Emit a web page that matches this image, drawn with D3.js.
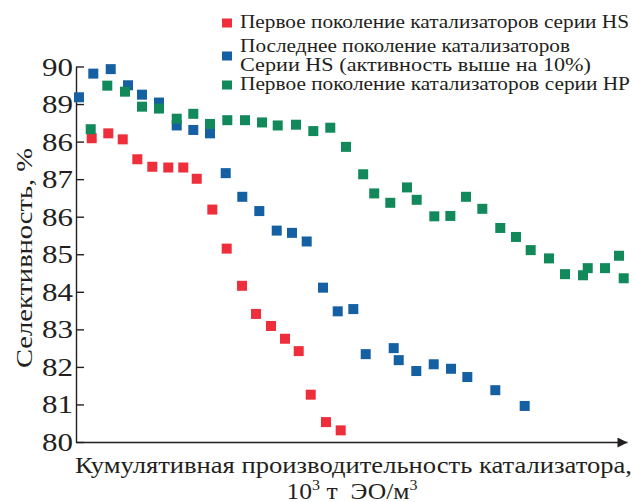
<!DOCTYPE html>
<html>
<head>
<meta charset="utf-8">
<script src="https://cdn.jsdelivr.net/npm/d3@7"></script>
<style>
  html, body { margin: 0; padding: 0; background: #fff; }
  svg { display: block; }
  text { font-family: "Liberation Serif", "Times New Roman", serif; fill: #231f20; }
</style>
</head>
<body>
<svg id="chart" width="633" height="502"></svg>
<script>
// Cumulative catalyst productivity (relative units, 0–100 along the axis)
const redX = [2.85, 5.86, 8.48, 11.13, 13.85, 16.75, 19.47, 21.91, 24.74, 27.35, 30.13, 32.67, 35.39, 37.93, 40.42, 42.60, 45.37, 48.04];
const redY = [88.09, 88.22, 88.06, 87.53, 87.33, 87.31, 87.31, 87.01, 86.19, 85.15, 84.16, 83.41, 83.09, 82.75, 82.42, 81.26, 80.53, 80.31];

const blueX = [0.54, 3.14, 6.30, 9.44, 11.98, 15.06, 18.28, 21.29, 24.32, 27.17, 30.18, 33.27, 36.43, 39.20, 41.87, 44.83, 47.50, 50.33, 52.58, 57.66, 58.57, 61.76, 64.92, 68.06, 71.02, 76.10, 81.43];
const blueY = [89.18, 89.81, 89.93, 89.50, 89.25, 89.04, 88.43, 88.31, 88.22, 87.16, 86.53, 86.15, 85.63, 85.57, 85.34, 84.11, 83.48, 83.54, 82.34, 82.50, 82.18, 81.89, 82.07, 81.95, 81.73, 81.38, 80.96];

const greenX = [2.67, 5.68, 8.89, 11.98, 15.06, 18.28, 21.29, 24.32, 27.46, 30.67, 33.76, 36.61, 39.93, 43.07, 46.15, 49.00, 52.12, 54.12, 57.04, 60.07, 61.83, 65.03, 67.94, 70.78, 73.74, 77.00, 79.85, 82.52, 85.84, 88.75, 92.01, 92.87, 96.01, 98.55, 99.40];
const greenY = [88.33, 89.49, 89.33, 88.93, 88.88, 88.61, 88.74, 88.47, 88.57, 88.57, 88.51, 88.43, 88.45, 88.28, 88.37, 87.86, 87.13, 86.62, 86.37, 86.78, 86.45, 86.01, 86.02, 86.53, 86.21, 85.70, 85.46, 85.11, 84.89, 84.47, 84.44, 84.63, 84.63, 84.96, 84.36];

const tickValues = [80, 81, 82, 83, 84, 85, 86, 87, 88, 89, 90];
const tickLabels = ["80", "81", "82", "83", "84", "85", "86", "87", "86", "89", "90"];

const seriesNames = [
  ["Первое поколение катализаторов серии HS"],
  ["Последнее поколение катализаторов", "Серии HS (активность выше на 10%)"],
  ["Первое поколение катализаторов серии HP"]
];
const seriesColors = ["#ee2f3b", "#1560a2", "#12895a"];

const svg = d3.select("#chart");

const x = d3.scaleLinear().domain([0, 100]).range([76, 627]);
const y = d3.scaleLinear().domain([80, 90]).range([442, 66.5]);

// arrow head for the horizontal axis
svg.append("defs").append("marker")
  .attr("id", "arrow")
  .attr("viewBox", "0 0 10 10")
  .attr("refX", 10).attr("refY", 5)
  .attr("markerUnits", "userSpaceOnUse")
  .attr("markerWidth", 11).attr("markerHeight", 10)
  .attr("orient", "auto")
  .append("path")
  .attr("d", "M0,0 L10,5 L0,10 Z")
  .attr("fill", "#231f20");

// y axis: ticks point inward, wide serif numerals
const yAxis = svg.append("g")
  .attr("transform", `translate(${x(0)},0)`)
  .call(d3.axisLeft(y)
    .tickValues(tickValues)
    .tickFormat((d, i) => tickLabels[i])
    .tickSizeInner(-8)
    .tickSizeOuter(0)
    .tickPadding(3));
yAxis.select(".domain").attr("stroke", "#231f20").attr("stroke-width", 1.4);
yAxis.selectAll(".tick line").attr("stroke", "#231f20").attr("stroke-width", 1.4);
yAxis.selectAll(".tick text")
  .attr("font-family", "Liberation Serif, serif")
  .attr("font-size", 25)
  .attr("fill", "#231f20")
  .attr("dy", "0.34em")
  .attr("textLength", 31)
  .attr("lengthAdjust", "spacingAndGlyphs");

// x axis: plain line with arrow
const xAxis = svg.append("g")
  .attr("transform", `translate(0,${y(80)})`)
  .call(d3.axisBottom(x).tickValues([]).tickSizeOuter(0));
xAxis.select(".domain")
  .attr("stroke", "#231f20").attr("stroke-width", 1.4)
  .attr("marker-end", "url(#arrow)");

// axis titles
svg.append("text")
  .attr("transform", `translate(31.5,258) rotate(-90)`)
  .attr("text-anchor", "middle")
  .attr("font-size", 24)
  .attr("textLength", 220)
  .attr("lengthAdjust", "spacingAndGlyphs")
  .text("Селективность, %");

svg.append("text")
  .attr("x", 353.5).attr("y", 472.5)
  .attr("text-anchor", "middle")
  .attr("font-size", 24)
  .attr("textLength", 557)
  .attr("lengthAdjust", "spacingAndGlyphs")
  .text("Кумулятивная производительность катализатора,");

const unit = svg.append("text")
  .attr("x", 352).attr("y", 498.5)
  .attr("text-anchor", "middle")
  .attr("font-size", 24)
  .attr("textLength", 131)
  .attr("lengthAdjust", "spacingAndGlyphs");
unit.append("tspan").text("10");
unit.append("tspan").attr("dy", -9).attr("font-size", 15).text("3");
unit.append("tspan").attr("dy", 9).text("\u00a0т\u00a0\u00a0ЭО/м");
unit.append("tspan").attr("dy", -9).attr("font-size", 15).text("3");

// markers
const series = [
  { xs: redX, ys: redY, color: seriesColors[0] },
  { xs: blueX, ys: blueY, color: seriesColors[1] },
  { xs: greenX, ys: greenY, color: seriesColors[2] }
];
const s = 10;
series.forEach(ser => {
  svg.append("g")
    .selectAll("rect")
    .data(ser.xs.map((v, i) => [v, ser.ys[i]]))
    .join("rect")
    .attr("x", d => x(d[0]) - s / 2)
    .attr("y", d => y(d[1]) - s / 2)
    .attr("width", s).attr("height", s)
    .attr("fill", ser.color);
});

// legend
const legend = svg.append("g");
const legendRows = [
  { sq: 23, lines: [28], widths: [389] },
  { sq: 56, lines: [51.5, 70.5], widths: [330, 351] },
  { sq: 85, lines: [90], widths: [390] }
];
legendRows.forEach((row, i) => {
  legend.append("rect")
    .attr("x", 222).attr("y", row.sq - 4.5)
    .attr("width", 10).attr("height", 9)
    .attr("fill", seriesColors[i]);
  seriesNames[i].forEach((line, j) => {
    legend.append("text")
      .attr("x", 240).attr("y", row.lines[j])
      .attr("font-size", 19.5)
      .attr("textLength", row.widths[j])
      .attr("lengthAdjust", "spacingAndGlyphs")
      .text(line);
  });
});
</script>
</body>
</html>
